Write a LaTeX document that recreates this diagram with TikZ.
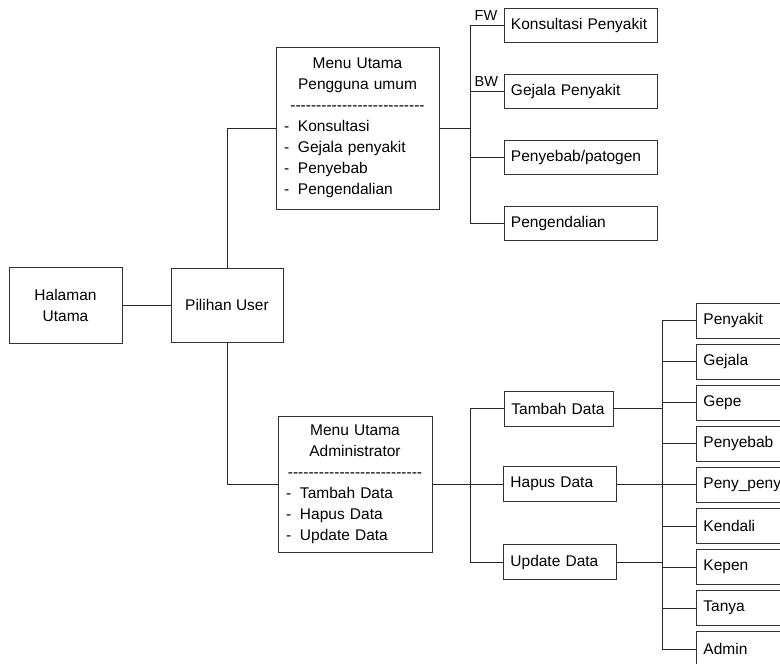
\documentclass[tikz,border=0pt]{standalone}
\usepackage{fontspec}
\setmainfont{Liberation Sans}
\usepackage{tikz}
\tikzset{
  kotak/.style={draw=black!80, line width=0.9pt, inner sep=0pt, font=\fontsize{15.5}{21}\selectfont},
  garis/.style={draw=black!85, line width=0.9pt},
  atas/.style={kotak, anchor=west, text width=140pt, inner xsep=6.5pt, minimum height=34pt, align=left},
  data/.style={kotak, anchor=west, inner xsep=7pt, minimum height=35pt, align=left},
  daun/.style={kotak, anchor=west, text width=100pt, inner xsep=7pt, minimum height=35pt, align=left},
  ket/.style={font=\fontsize{14.5}{16}\selectfont, inner sep=0pt, anchor=south west}
}
\newcommand\strip{\foreach \i in {1,...,26}{-}}
\newcommand\tengah[2]{\makebox[#1]{#2}}
\newcommand\butir[1]{\makebox[14pt][l]{-}#1}

\begin{document}
\begin{tikzpicture}[x=1pt,y=-1pt]
\useasboundingbox (0,0) rectangle (780,664);
\clip (0,0) rectangle (780,664);
% halaman dan pilihan
\node[kotak, minimum width=113pt, minimum height=76pt, align=center] (halaman) at (65.5,305) {Halaman\\Utama};
\node[kotak, minimum width=112pt, minimum height=74pt] (pilihan) at (227,305) {Pilihan User};
% menu utama
\node[kotak, text width=147pt, inner xsep=8pt, minimum height=162pt, align=left] (umum) at (357.5,128)
  {\tengah{147pt}{Menu Utama}\\\tengah{147pt}{Pengguna umum}\\\tengah{147pt}{\strip}\\
   \butir{Konsultasi}\\\butir{Gejala penyakit}\\\butir{Penyebab}\\\butir{Pengendalian}};
\node[kotak, text width=138pt, inner xsep=8pt, minimum height=136pt, align=left] (admin) at (355,484)
  {\tengah{138pt}{Menu Utama}\\\tengah{138pt}{Administrator}\\\tengah{138pt}{\strip}\\
   \butir{Tambah Data}\\\butir{Hapus Data}\\\butir{Update Data}};
% pengguna umum
\foreach \nama/\teks/\y in {konsul/Konsultasi Penyakit/25, gejala/Gejala Penyakit/91,
    sebab/{Penyebab/patogen}/157, kendali/Pengendalian/223}
  \node[atas] (\nama) at (504,\y) {\teks};
% administrator
\node[data, text width=95pt] (tambah) at (504,408.5) {Tambah Data};
\node[data, text width=99pt] (hapus) at (503,484) {Hapus Data};
\node[data, text width=99pt] (update) at (503,562) {Update Data};
\foreach \teks [count=\i] in {Penyakit,Gejala,Gepe,Penyebab,Peny\_peny,Kendali,Kepen,Tanya,Admin}
  \node[daun] (d\i) at (696,{320.5+41.1*(\i-1)}) {\teks};
\coordinate (bus1) at (470,128);
\coordinate (bus2) at (470,484);
\coordinate (bus3) at (662,484);
% penghubung
\draw[garis] (halaman) -- (pilihan);
\draw[garis] (pilihan.north) |- (umum.west);
\draw[garis] (pilihan.south) |- (admin.west);
\draw[garis] (umum.east) -- (umum.east -| bus1);
\draw[garis] (konsul.west) -- (konsul.west -| bus1) -- (kendali.west -| bus1) -- (kendali.west);
\foreach \n in {gejala,sebab}
  \draw[garis] (\n.west) -- (\n.west -| bus1);
\node[ket] (fw) at ([xshift=4.5pt,yshift=4pt]konsul.west -| bus1) {FW};
\node[ket] (bw) at ([xshift=4.5pt,yshift=4pt]gejala.west -| bus1) {BW};
\draw[garis] (admin.east) -- (hapus.west);
\draw[garis] (tambah.west) -- (tambah.west -| bus2) -- (update.west -| bus2) -- (update.west);
\foreach \n in {tambah,hapus,update}
  \draw[garis] (\n.east) -- (\n.east -| bus3);
\draw[garis] (d1.west) -- (d1.west -| bus3) -- (d9.west -| bus3) -- (d9.west);
\foreach \i in {2,...,8}
  \draw[garis] (d\i.west) -- (d\i.west -| bus3);
\end{tikzpicture}
\end{document}
